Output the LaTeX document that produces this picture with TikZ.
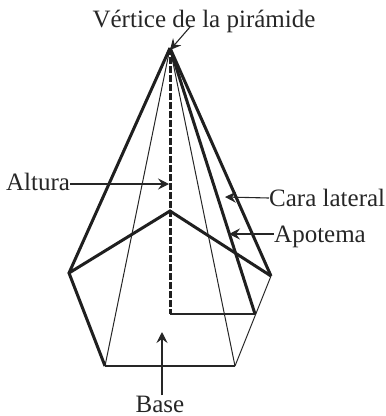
\documentclass[tikz,border=0pt]{standalone}
\usepackage{fontspec}
\setmainfont{Liberation Serif}
\usetikzlibrary{arrows.meta,positioning}

\begin{document}
\begin{tikzpicture}[x=1pt, y=-1pt,
  edgethick/.style={line width=3pt, black!88},
  edgethin/.style={line width=1pt, black!85},
  callout/.style={-{Stealth[length=11pt, width=11pt, inset=4pt]}, line width=1.1pt, black!85},
  lbl/.style={font=\fontsize{25}{27}\selectfont, inner sep=0pt, text=black!85}]

\useasboundingbox (0,0) rectangle (386,416);

% Pyramid points
\coordinate (apex) at (170,48);
\coordinate (left) at (69,273);
\coordinate (botl) at (105,366);
\coordinate (botr) at (235,366);
\coordinate (right) at (271,276);
\coordinate (back) at (170,211);
\coordinate (foot) at (170,314);
\coordinate (apofoot) at (255,314);

% Thin edges
\draw[edgethin] (apex) -- (botl);
\draw[edgethin] (apex) -- (botr);
\draw[edgethin] (botr) -- (right);
\draw[line width=1.3pt, black!85] (foot) -- (apofoot);
\draw[line width=1.5pt, black!85] (botl) -- (botr);

% Height
\draw[edgethick, dash pattern=on 6.5pt off 2.5pt] (apex) -- (foot);

% Thick edges
\draw[edgethick, line join=miter] (apex) -- (left) -- (botl);
\draw[edgethick] (apex) -- (right);
\draw[edgethick] (apex) -- (apofoot);
\draw[edgethick] (left) -- (back) -- (right);

% Labels
\node[lbl] (vertice) at (204,21) {Vértice de la pirámide};
\node[lbl, anchor=west] (altura) at (6,182) {Altura};
\node[lbl, anchor=west] (cara) at (269,198) {Cara lateral};
\node[lbl, anchor=west] (apotema) at (274,236.5) {Apotema};
\node[lbl] (base) at (160,404) {Base};

% Arrow ends
\coordinate (tipv) at (170,50);
\coordinate (tipal) at (169,184);
\coordinate (tipc) at (225,197);
\coordinate (tipap) at (229,234);
\coordinate (tipb) at (162,332);

% Arrows
\draw[callout] (190,27) -- (tipv);
\draw[callout] (altura.east |- tipal) -- (tipal);
\draw[callout] (cara.west) -- (tipc);
\draw[callout] (apotema.west |- tipap) -- (tipap);
\draw[callout] (base.north -| tipb) -- (tipb);

\end{tikzpicture}
\end{document}
